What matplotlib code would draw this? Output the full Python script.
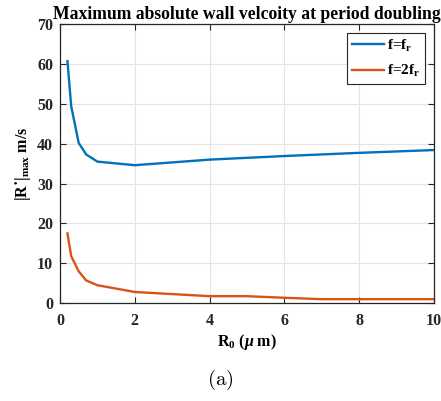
import matplotlib
matplotlib.use("Agg")
import matplotlib.pyplot as plt

R0 = [0.2, 0.3, 0.5, 0.7, 1.0, 2.0, 4.0, 6.0, 8.0, 10.0]
v_fr = [60.7, 49.4, 40.2, 37.3, 35.5, 34.6, 36.0, 36.9, 37.7, 38.4]
R0_2 = [0.2, 0.3, 0.5, 0.7, 1.0, 2.0, 4.0, 5.0, 6.0, 7.0, 10.0]
v_2fr = [17.5, 11.8, 8.0, 5.7, 4.5, 2.8, 1.75, 1.75, 1.35, 1.0, 1.0]
labels = ['f=f$_\\mathrm{r}$', 'f=2f$_\\mathrm{r}$']
title = 'Maximum absolute wall velcoity at period doubling'

plt.rcParams['font.family'] = ['Liberation Serif', 'DejaVu Serif']
plt.rcParams['font.weight'] = 'bold'
plt.rcParams['mathtext.fontset'] = 'custom'
plt.rcParams['mathtext.rm'] = 'Liberation Serif:bold'
plt.rcParams['mathtext.it'] = 'Liberation Serif:bold:italic'
plt.rcParams['mathtext.bf'] = 'Liberation Serif:bold'

fig = plt.figure(figsize=(4.41, 4.01), dpi=100)
ax = fig.add_axes([0.136, 0.244, 0.848, 0.696])
ax.plot(R0, v_fr, color='#0072BD', lw=1.7, label=labels[0])
ax.plot(R0_2, v_2fr, color='#D95319', lw=1.7, label=labels[1])
ax.set_xlim(0, 10)
ax.set_ylim(0, 70)
ax.set_xticks(range(0, 11, 2))
ax.set_yticks(range(0, 71, 10))
ax.grid(True, color='#e3e3e3', lw=0.8)
ax.set_axisbelow(True)
for s in ax.spines.values():
    s.set_color('#262626')
    s.set_linewidth(0.9)
ax.tick_params(direction='in', top=True, right=True, labelsize=11.5, colors='#262626',
               length=4, width=0.8)
ax.tick_params(axis='x', pad=7)
ax.tick_params(axis='y', pad=5)
for t in ax.get_xticklabels() + ax.get_yticklabels():
    t.set_fontweight('bold')
    t.set_color('#262626')
ax.set_title(title, fontsize=12.7, fontweight='bold', pad=4)
ax.set_xlabel(r'R$_0$ ($\mu$ m)', fontsize=11.5, fontweight='bold', labelpad=2)
ax.set_ylabel('|R\u02d9|$_{\\mathrm{max}}$ m/s', fontsize=11.5, fontweight='bold', labelpad=3)
leg = ax.legend(loc='upper right', fontsize=11, fancybox=False, framealpha=1,
                edgecolor='#262626', handlelength=2.1, borderpad=0.3, labelspacing=0.6,
                handletextpad=0.2, borderaxespad=0.6)
leg.get_frame().set_linewidth(0.8)
fig.text(0.5, 0.04, r'$\mathrm{(a)}$', ha='center', fontsize=15, math_fontfamily='cm')
fig.savefig('out.png', dpi=100)
